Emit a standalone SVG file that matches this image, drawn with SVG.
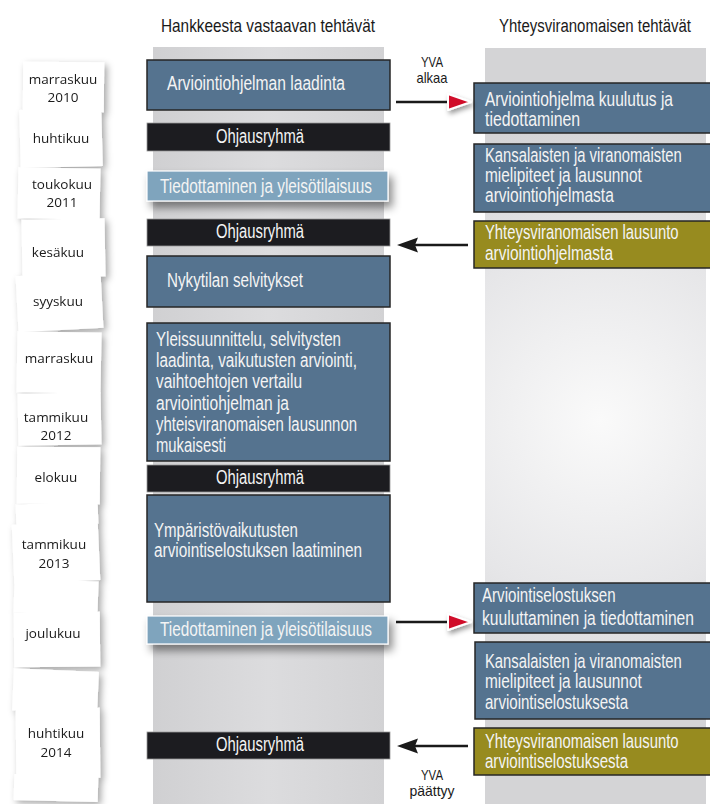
<svg xmlns="http://www.w3.org/2000/svg" width="710" height="804" viewBox="0 0 710 804">
<defs>
<style>
.hdr{font-family:"Liberation Sans",Arial,sans-serif;font-size:19px;fill:#1a1a1a}
.bt{font-family:"Liberation Sans",Arial,sans-serif;font-size:19.5px;fill:#f4f4f4}
.lbl{font-family:"Liberation Sans",Arial,sans-serif;font-size:15px;fill:#1a1a1a;text-anchor:middle}
.ct{font-family:"Open Sans","Noto Sans",sans-serif;font-size:13.5px;fill:#1a1a1a;text-anchor:middle}
.blue{fill:#55738f;stroke:#262626;stroke-width:1.5}
.lblue{fill:#7fa4bd;stroke:#ffffff;stroke-width:1.2}
.blk{fill:#1c1c20;stroke:#9a9a9a;stroke-width:0.8}
.olive{fill:#978b1f;stroke:#262626;stroke-width:1.5}
.card{fill:#ffffff}
.ln{stroke:#1a1a1a;stroke-width:2.5;fill:none}
</style>
<linearGradient id="gl" x1="0" y1="0" x2="1" y2="0">
<stop offset="0" stop-color="#d0d0d2"/><stop offset="0.5" stop-color="#dcdcde"/><stop offset="1" stop-color="#d2d2d4"/>
</linearGradient>
<radialGradient id="gr" cx="600" cy="420" r="300" gradientUnits="userSpaceOnUse">
<stop offset="0" stop-color="#fafafa"/><stop offset="0.6" stop-color="#e6e6e8"/><stop offset="1" stop-color="#d4d4d6"/>
</radialGradient>
<filter id="sh" x="-20%" y="-20%" width="150%" height="150%">
<feDropShadow dx="3" dy="3" stdDeviation="3.5" flood-color="#000" flood-opacity="0.35"/>
</filter>
<filter id="bsh" x="-10%" y="-30%" width="125%" height="190%">
<feDropShadow dx="4" dy="6" stdDeviation="4" flood-color="#000" flood-opacity="0.45"/>
</filter>
<filter id="rsh" x="-50%" y="-50%" width="220%" height="220%">
<feDropShadow dx="2" dy="3" stdDeviation="2.5" flood-color="#000" flood-opacity="0.4"/>
</filter>
</defs>

<rect x="0" y="0" width="710" height="804" fill="#ffffff"/>
<rect x="153" y="47" width="231" height="757" fill="url(#gl)"/>
<rect x="485" y="48" width="221" height="756" fill="url(#gr)"/>

<text class="hdr" x="161" y="32" textLength="214" lengthAdjust="spacingAndGlyphs">Hankkeesta vastaavan tehtävät</text>
<g transform="matrix(0.8,0,0,1,99.8,0)"><text class="hdr" x="499" y="32" textLength="240" lengthAdjust="spacingAndGlyphs">Yhteysviranomaisen tehtävät</text></g>

<g id="cards" filter="url(#sh)">
<g id="card-1"><rect class="card" x="23" y="62" width="81" height="50" transform="rotate(0.5 63 87)"/><text class="ct" x="63" y="84">marraskuu</text><text class="ct" x="63" y="102">2010</text></g>
<g id="card-2"><rect class="card" x="20" y="109" width="82" height="58" transform="rotate(-1.5 61 138)"/><text class="ct" x="61" y="143">huhtikuu</text></g>
<g id="card-3"><rect class="card" x="18" y="168" width="82" height="51" transform="rotate(1 59 193)"/><text class="ct" x="62" y="189">toukokuu</text><text class="ct" x="62" y="207">2011</text></g>
<g id="card-4"><rect class="card" x="22" y="219" width="83" height="58" transform="rotate(-1 63 248)"/><text class="ct" x="58" y="257">kesäkuu</text></g>
<g id="card-5"><rect class="card" x="17" y="274" width="85" height="56" transform="rotate(-3 59 302)"/><text class="ct" x="58" y="306">syyskuu</text></g>
<g id="card-6"><rect class="card" x="17" y="332" width="84" height="61" transform="rotate(1 59 362)"/><text class="ct" x="59" y="363">marraskuu</text></g>
<g id="card-7"><rect class="card" x="18" y="393" width="83" height="52" transform="rotate(-1 59 419)"/><text class="ct" x="56" y="422">tammikuu</text><text class="ct" x="56" y="440">2012</text></g>
<g id="card-8"><rect class="card" x="17" y="447" width="83" height="57" transform="rotate(0.5 58 475)"/><text class="ct" x="56" y="482">elokuu</text></g>
<g id="card-8b"><rect class="card" x="16" y="503" width="82" height="22" transform="rotate(-2 57 514)"/></g>
<g id="card-9"><rect class="card" x="13" y="523" width="86" height="59" transform="rotate(-2.5 56 552)"/><text class="ct" x="54" y="549">tammikuu</text><text class="ct" x="54" y="568">2013</text></g>
<g id="card-10"><rect class="card" x="14" y="580" width="84" height="34" transform="rotate(2 56 597)"/></g>
<g id="card-11"><rect class="card" x="14" y="612" width="86" height="55" transform="rotate(-0.5 57 640)"/><text class="ct" x="53" y="638">joulukuu</text></g>
<g id="card-12"><rect class="card" x="13" y="670" width="85" height="42" transform="rotate(2.5 55 691)"/></g>
<g id="card-13"><rect class="card" x="16" y="708" width="84" height="70" transform="rotate(-0.5 58 743)"/><text class="ct" x="56" y="738">huhtikuu</text><text class="ct" x="56" y="757">2014</text></g>
<g id="card-14"><rect class="card" x="14" y="775" width="84" height="26" transform="rotate(1.5 56 788)"/></g>
</g>

<g id="l1"><rect class="blue" x="147" y="60" width="243" height="50"/><text class="bt" x="167" y="90" textLength="178" lengthAdjust="spacingAndGlyphs">Arviointiohjelman laadinta</text></g>
<g id="l2"><rect class="blk" x="147" y="123" width="243" height="28"/><text class="bt" x="260" y="143" text-anchor="middle" textLength="88" lengthAdjust="spacingAndGlyphs">Ohjausryhmä</text></g>
<g id="l3"><rect class="lblue" x="147" y="171" width="241" height="30" filter="url(#bsh)"/><text class="bt" x="160" y="193" textLength="212" lengthAdjust="spacingAndGlyphs">Tiedottaminen ja yleisötilaisuus</text></g>
<g id="l4"><rect class="blk" x="147" y="219" width="243" height="27"/><text class="bt" x="260" y="238" text-anchor="middle" textLength="88" lengthAdjust="spacingAndGlyphs">Ohjausryhmä</text></g>
<g id="l5"><rect class="blue" x="147" y="256" width="243" height="51"/><text class="bt" x="167" y="287" textLength="136" lengthAdjust="spacingAndGlyphs">Nykytilan selvitykset</text></g>
<g id="l6"><rect class="blue" x="147" y="323" width="243" height="138"/>
<text class="bt" x="156" y="346" textLength="185" lengthAdjust="spacingAndGlyphs">Yleissuunnittelu, selvitysten</text>
<text class="bt" x="156" y="367" textLength="201" lengthAdjust="spacingAndGlyphs">laadinta, vaikutusten arviointi,</text>
<text class="bt" x="156" y="388" textLength="146" lengthAdjust="spacingAndGlyphs">vaihtoehtojen vertailu</text>
<text class="bt" x="156" y="410" textLength="133" lengthAdjust="spacingAndGlyphs">arviointiohjelman ja</text>
<text class="bt" x="156" y="431" textLength="201" lengthAdjust="spacingAndGlyphs">yhteisviranomaisen lausunnon</text>
<text class="bt" x="156" y="452" textLength="70" lengthAdjust="spacingAndGlyphs">mukaisesti</text></g>
<g id="l7"><rect class="blk" x="147" y="465" width="243" height="27"/><text class="bt" x="260" y="484" text-anchor="middle" textLength="88" lengthAdjust="spacingAndGlyphs">Ohjausryhmä</text></g>
<g id="l8"><rect class="blue" x="147" y="495" width="243" height="107"/>
<text class="bt" x="154" y="537" textLength="144" lengthAdjust="spacingAndGlyphs">Ympäristövaikutusten</text>
<text class="bt" x="154" y="557" textLength="208" lengthAdjust="spacingAndGlyphs">arviointiselostuksen laatiminen</text></g>
<g id="l9"><rect class="lblue" x="147" y="616" width="241" height="28" filter="url(#bsh)"/><text class="bt" x="160" y="636" textLength="212" lengthAdjust="spacingAndGlyphs">Tiedottaminen ja yleisötilaisuus</text></g>
<g id="l10"><rect class="blk" x="147" y="732" width="243" height="27"/><text class="bt" x="260" y="751" text-anchor="middle" textLength="88" lengthAdjust="spacingAndGlyphs">Ohjausryhmä</text></g>

<g id="r1"><rect class="blue" x="474" y="83" width="240" height="50"/>
<g transform="matrix(0.8,0,0,1,97,0)">
<text class="bt" x="485" y="106" textLength="235" lengthAdjust="spacingAndGlyphs">Arviointiohjelma kuulutus ja</text>
<text class="bt" x="485" y="126" textLength="119" lengthAdjust="spacingAndGlyphs">tiedottaminen</text></g></g>
<g id="r2"><rect class="blue" x="474" y="144" width="240" height="68"/>
<g transform="matrix(0.8,0,0,1,97,0)">
<text class="bt" x="485" y="162" textLength="246" lengthAdjust="spacingAndGlyphs">Kansalaisten ja viranomaisten</text>
<text class="bt" x="485" y="182" textLength="196" lengthAdjust="spacingAndGlyphs">mielipiteet ja lausunnot</text>
<text class="bt" x="485" y="202" textLength="161" lengthAdjust="spacingAndGlyphs">arviointiohjelmasta</text></g></g>
<g id="r3"><rect class="olive" x="474" y="221" width="240" height="47"/>
<g transform="matrix(0.8,0,0,1,97,0)">
<text class="bt" x="485" y="239" textLength="242" lengthAdjust="spacingAndGlyphs">Yhteysviranomaisen lausunto</text>
<text class="bt" x="485" y="260" textLength="160" lengthAdjust="spacingAndGlyphs">arviointiohjelmasta</text></g></g>
<g id="r4"><rect class="blue" x="474" y="583" width="240" height="50"/>
<g transform="matrix(0.8,0,0,1,97,0)">
<text class="bt" x="481.25" y="602" textLength="167" lengthAdjust="spacingAndGlyphs">Arviointiselostuksen</text>
<text class="bt" x="481.25" y="625" textLength="265" lengthAdjust="spacingAndGlyphs">kuuluttaminen ja tiedottaminen</text></g></g>
<g id="r5"><rect class="blue" x="475" y="642" width="240" height="77"/>
<g transform="matrix(0.8,0,0,1,97,0)">
<text class="bt" x="485" y="668" textLength="246" lengthAdjust="spacingAndGlyphs">Kansalaisten ja viranomaisten</text>
<text class="bt" x="485" y="688" textLength="196" lengthAdjust="spacingAndGlyphs">mielipiteet ja lausunnot</text>
<text class="bt" x="485" y="709" textLength="179" lengthAdjust="spacingAndGlyphs">arviointiselostuksesta</text></g></g>
<g id="r6"><rect class="olive" x="474" y="728" width="240" height="47"/>
<g transform="matrix(0.8,0,0,1,97,0)">
<text class="bt" x="485" y="748" textLength="242" lengthAdjust="spacingAndGlyphs">Yhteysviranomaisen lausunto</text>
<text class="bt" x="485" y="768" textLength="179" lengthAdjust="spacingAndGlyphs">arviointiselostuksesta</text></g></g>

<g id="connectors">
<line class="ln" x1="396" y1="102" x2="450" y2="102"/>
<polygon points="448,94 471,102 448,110" fill="#d0102c" stroke="#ffffff" stroke-width="2" stroke-linejoin="round" filter="url(#rsh)"/>
<line class="ln" x1="414" y1="245" x2="468" y2="245"/>
<polygon points="397,245 418,237.5 415,245 418,252.5" fill="#1a1a1a"/>
<line class="ln" x1="396" y1="622" x2="450" y2="622"/>
<polygon points="448,614 471,622 448,630" fill="#d0102c" stroke="#ffffff" stroke-width="2" stroke-linejoin="round" filter="url(#rsh)"/>
<line class="ln" x1="414" y1="746" x2="468" y2="746"/>
<polygon points="397,746 418,738.5 415,746 418,753.5" fill="#1a1a1a"/>
</g>

<g id="labels">
<text class="lbl" x="432" y="67" textLength="22" lengthAdjust="spacingAndGlyphs">YVA</text>
<text class="lbl" x="432" y="83" textLength="31" lengthAdjust="spacingAndGlyphs">alkaa</text>
<text class="lbl" x="432" y="780" textLength="22" lengthAdjust="spacingAndGlyphs">YVA</text>
<text class="lbl" x="432" y="796" textLength="45" lengthAdjust="spacingAndGlyphs">päättyy</text>
</g>
</svg>
